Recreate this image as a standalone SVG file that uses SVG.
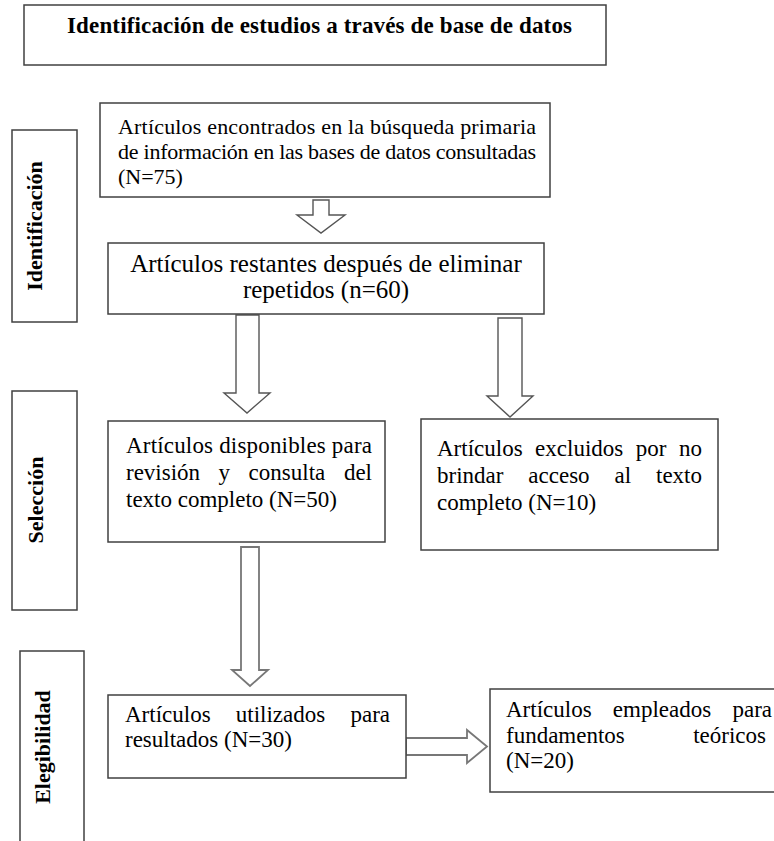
<svg xmlns="http://www.w3.org/2000/svg" width="774" height="841" viewBox="0 0 774 841">
<style>
.box{fill:#fff;stroke:#404040;stroke-width:1.5}
.arr{fill:#fff;stroke:#555;stroke-width:1.4;stroke-linejoin:miter}
.arr2{fill:#fff;stroke:#777;stroke-width:1.8}
.t{font-family:"Liberation Serif","Times New Roman",serif;fill:#000}
.b{font-size:23px}
.side{font-family:"Liberation Serif","Times New Roman",serif;font-weight:bold;font-size:22px;fill:#000;text-anchor:middle}
.e{text-anchor:end}
</style>
<rect width="774" height="841" fill="#fff"/>

<g id="connectors">
  <path class="arr" d="M313,200 H329 V215 H345 L321,233 L297,215 H313 Z"/>
  <path class="arr" d="M236,315 H259 V393 H270 L247,413 L224,393 H236 Z"/>
  <path class="arr" d="M498,318 H522 V396 H533 L510,417 L487,396 H498 Z"/>
  <path class="arr2" d="M241,547 H259 V670 H268 L250,686 L232,670 H241 Z"/>
  <path class="arr2" d="M406,738 H467 V730 L487,746.5 L467,763 V755 H406 Z"/>
</g>

<g id="title">
  <rect class="box" x="24" y="5" width="582" height="60"/>
  <text class="t" x="67" y="33" font-size="23" font-weight="bold" textLength="505" lengthAdjust="spacing">Identificación de estudios a través de base de datos</text>
</g>

<g id="side-identificacion">
  <rect class="box" x="12" y="130" width="65" height="192"/>
  <text class="side" transform="translate(42,226) rotate(-90)">Identificación</text>
</g>
<g id="side-seleccion">
  <rect class="box" x="12" y="391" width="65" height="219"/>
  <text class="side" transform="translate(43,500) rotate(-90)">Selección</text>
</g>
<g id="side-elegibilidad">
  <rect class="box" x="20" y="651" width="64" height="220"/>
  <text class="side" transform="translate(50,747) rotate(-90)">Elegibilidad</text>
</g>

<g id="n1">
  <rect class="box" x="100" y="103" width="450" height="94"/>
  <text class="t" font-size="22" x="118" y="134" textLength="418" lengthAdjust="spacing">Artículos encontrados en la búsqueda primaria</text>
  <text class="t" font-size="22" x="118" y="159" textLength="418" lengthAdjust="spacing">de información en las bases de datos consultadas</text>
  <text class="t" font-size="22" x="118" y="184">(N=75)</text>
</g>

<g id="n2">
  <rect class="box" x="108" y="243" width="436" height="71"/>
  <text class="t" font-size="25" x="326" y="272" text-anchor="middle">Artículos restantes después de eliminar</text>
  <text class="t" font-size="25" x="326" y="298" text-anchor="middle">repetidos (n=60)</text>
</g>

<g id="n3">
  <rect class="box" x="108" y="421" width="277" height="121"/>
  <text class="t b" x="126" y="453" textLength="246" lengthAdjust="spacing">Artículos disponibles para</text>
  <text class="t b" y="480"><tspan x="126">revisión</tspan><tspan x="218.6">y</tspan><tspan x="248.6">consulta</tspan></text>
  <text class="t b e" x="372" y="480">del</text>
  <text class="t b" x="126" y="507">texto completo (N=50)</text>
</g>

<g id="n4">
  <rect class="box" x="421" y="419" width="297" height="131"/>
  <text class="t b" y="456"><tspan x="437">Artículos</tspan><tspan x="535.1">excluidos</tspan><tspan x="635.8">por</tspan></text>
  <text class="t b e" x="702" y="456">no</text>
  <text class="t b" y="483"><tspan x="437">brindar</tspan><tspan x="528.3">acceso</tspan><tspan x="614.5">al</tspan></text>
  <text class="t b e" x="702" y="483">texto</text>
  <text class="t b" x="437" y="510">completo (N=10)</text>
</g>

<g id="n5">
  <rect class="box" x="108" y="695" width="298" height="83"/>
  <text class="t b" y="722"><tspan x="125">Artículos</tspan><tspan x="235.8">utilizados</tspan></text>
  <text class="t b e" x="390" y="722">para</text>
  <text class="t b" x="125" y="747">resultados (N=30)</text>
</g>

<g id="n6">
  <rect class="box" x="490" y="689" width="300" height="103"/>
  <text class="t b" y="717"><tspan x="506">Artículos</tspan><tspan x="612.8">empleados</tspan></text>
  <text class="t b e" x="772" y="717">para</text>
  <text class="t b" x="506" y="743">fundamentos</text>
  <text class="t b e" x="766" y="743">teóricos</text>
  <text class="t b" x="506" y="768">(N=20)</text>
</g>
</svg>
